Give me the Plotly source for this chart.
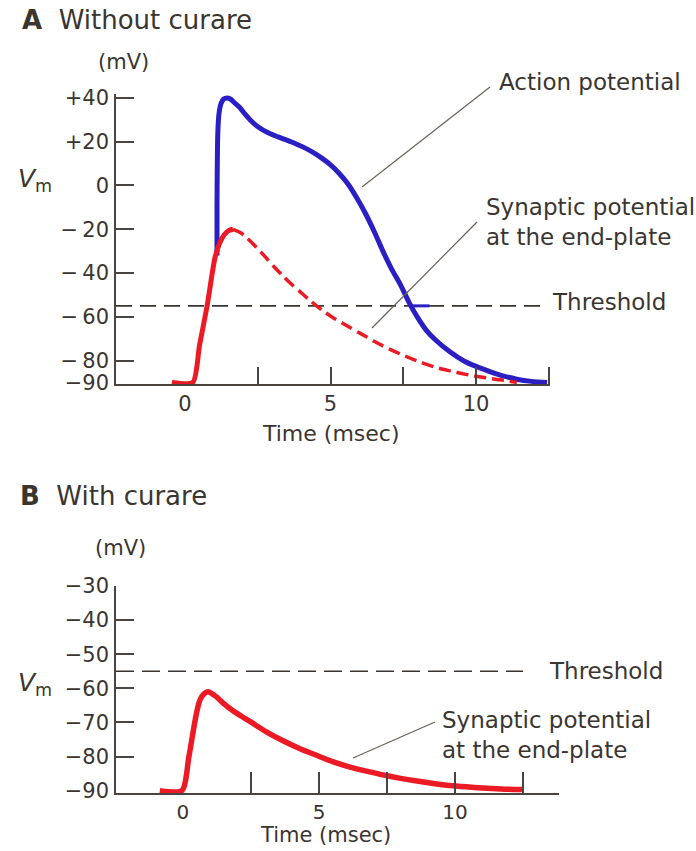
import plotly.graph_objects as go

W, H = 696, 851

# ---------------- data ----------------
THRESHOLD_MV = -55

# Panel A: synaptic potential (solid rising part, then dashed decay)
T_SYN_A_RISE = [-0.45, 0.27, 0.5, 0.76, 1.03, 1.2, 1.35, 1.5, 1.65]
V_SYN_A_RISE = [-90, -90, -73, -55, -33, -26, -22.5, -20.6, -20]
T_SYN_A_DECAY = [1.65, 1.9, 2.13, 2.45, 2.75, 3.05, 3.37, 3.65, 3.95, 4.25, 4.54, 4.82,
                 5.1, 5.4, 5.67, 5.95, 6.25, 6.5, 6.8, 7.1, 7.4, 7.7, 8.0, 8.3, 8.6, 8.9,
                 9.2, 9.5, 9.8, 10.1, 10.4, 10.7, 11.0, 11.4]
V_SYN_A_DECAY = [-20, -21.5, -24, -28.2, -32.5, -37, -41.4, -45, -48.5, -52, -55.2, -58,
                 -60.5, -62.8, -64.9, -67.1, -69.2, -71.2, -73.3, -75.2, -77, -78.7,
                 -80.3, -81.7, -83, -84.1, -85, -85.9, -86.7, -87.4, -88, -88.6, -89.1, -90]

# Panel A: action potential
T_AP = [1.10, 1.10, 1.11, 1.13, 1.17, 1.24, 1.33, 1.44, 1.56, 1.7, 1.89, 2.05, 2.25,
        2.47, 2.7, 2.95, 3.2, 3.5, 3.8, 4.1, 4.4, 4.7, 5.0, 5.3, 5.6, 5.9, 6.2, 6.5,
        6.8, 7.1, 7.4, 7.7, 8.0, 8.3, 8.6, 9.1, 9.6, 10.2, 10.8, 11.4, 11.9, 12.44]
V_AP = [-32, -10, 10, 25, 33, 37.5, 39.5, 40, 39.5, 37.8, 35.5, 32.8, 29.8,
        27.2, 25.2, 23.5, 22.2, 20.7, 19.1, 17.3, 15.1, 12.5, 9.4, 5.5, 0.7, -5.6,
        -12.8, -21, -30, -38.2, -45.3, -53.5, -60.5, -66.3, -70.5, -76, -80.3,
        -83.7, -86.5, -88.5, -89.5, -90]
T_AP_THR_MARK = [7.7, 8.4]

# Panel B: synaptic potential with curare
T_SYN_B = [-0.85, -0.04, 0.22, 0.48, 0.62, 0.75, 0.92, 1.2, 1.5, 1.84, 2.15, 2.46,
           3.05, 3.68, 4.3, 4.93, 5.5, 6.14, 6.75, 7.35, 8.0, 8.6, 9.2, 9.8, 10.4,
           11.0, 11.7, 12.46]
V_SYN_B = [-90, -90, -80, -68, -63.5, -61.8, -61, -62.3, -64.5, -66.6, -68.2, -69.7,
           -72.7, -75.4, -77.7, -79.7, -81.5, -83.1, -84.3, -85.4, -86.4, -87.2,
           -87.9, -88.5, -88.9, -89.2, -89.5, -89.7]

# threshold line extents (ms)
THR_T_A = [-2.37, 12.2]
THR_T_B = [-2.46, 12.5]

# axis ticks
YTICKS_A = [40, 20, 0, -20, -40, -60, -80, -90]
YTEXT_A = ["+40", "+20", "0", "\u2212\u200920", "\u2212\u200940", "\u2212\u200960",
           "\u2212\u200980", "\u221290"]
YMARKS_A = [40, 20, 0, -20, -40, -60, -80]
YTICKS_B = [-30, -40, -50, -60, -70, -80, -90]
YTEXT_B = ["\u221230", "\u221240", "\u221250", "\u221260", "\u221270", "\u221280", "\u221290"]
YMARKS_B = [-30, -40, -50, -60, -70, -80]
XLABELS = [0, 5, 10]
XMARKS = [2.5, 5, 7.5, 10, 12.5]

# ---------------- style ----------------
FONT = "DejaVu Sans"
TXT = "#3a3531"
AX = "#4a4540"
BLUE = "#2b1fc4"
RED = "#ec1a24"

def px(x):
    return x / W

def py(y):
    return 1 - y / H

XR_A = [-2.37, 12.54]
YR_A = [-90.7, 41.8]
XR_B = [-2.46, 13.82]
YR_B = [-90.7, -30]

fig = go.Figure()

# Panel A
fig.add_trace(go.Scatter(x=THR_T_A, y=[THRESHOLD_MV] * 2, mode="lines",
                         line=dict(color="#3a3531", width=1.6, dash="16px,8px"),
                         xaxis="x", yaxis="y"))
fig.add_trace(go.Scatter(x=T_AP, y=V_AP, mode="lines",
                         line=dict(color=BLUE, width=5, shape="spline", smoothing=0.8),
                         xaxis="x", yaxis="y"))
fig.add_trace(go.Scatter(x=T_AP_THR_MARK, y=[THRESHOLD_MV] * 2, mode="lines",
                         line=dict(color=BLUE, width=3),
                         xaxis="x", yaxis="y"))
fig.add_trace(go.Scatter(x=T_SYN_A_DECAY, y=V_SYN_A_DECAY, mode="lines",
                         line=dict(color=RED, width=3.5, dash="12px,6px", shape="spline",
                                   smoothing=0.8),
                         xaxis="x", yaxis="y"))
fig.add_trace(go.Scatter(x=T_SYN_A_RISE, y=V_SYN_A_RISE, mode="lines",
                         line=dict(color=RED, width=5, shape="spline", smoothing=0.6),
                         xaxis="x", yaxis="y"))

# Panel B
fig.add_trace(go.Scatter(x=THR_T_B, y=[THRESHOLD_MV] * 2, mode="lines",
                         line=dict(color="#3a3531", width=1.6, dash="18px,8px"),
                         xaxis="x2", yaxis="y2"))
fig.add_trace(go.Scatter(x=T_SYN_B, y=V_SYN_B, mode="lines",
                         line=dict(color=RED, width=5.5, shape="spline", smoothing=0.7),
                         xaxis="x2", yaxis="y2"))

# dummy traces so the overlay tick-mark axes render
fig.add_trace(go.Scatter(x=[None], y=[None], xaxis="x3", yaxis="y3", hoverinfo="skip"))
fig.add_trace(go.Scatter(x=[None], y=[None], xaxis="x4", yaxis="y4", hoverinfo="skip"))

tickfont = dict(family=FONT, size=21, color=TXT)

common_x = dict(showgrid=False, zeroline=False, showline=True, linecolor=AX, linewidth=1.6,
                ticks="", tickfont=tickfont, tickmode="array", tickvals=XLABELS,
                ticktext=[str(v) for v in XLABELS], fixedrange=True, automargin=False)
common_y = dict(showgrid=False, zeroline=False, showline=True, linecolor=AX, linewidth=1.6,
                ticks="", tickfont=tickfont, ticklabelstandoff=1,
                tickmode="array", fixedrange=True, automargin=False)
mark = dict(showgrid=False, zeroline=False, showline=False, ticks="inside", tickwidth=1.5,
            tickcolor=AX, showticklabels=False, tickmode="array", fixedrange=True,
            automargin=False)

fig.update_layout(
    width=W, height=H,
    margin=dict(l=0, r=0, t=0, b=0, pad=0, autoexpand=False),
    paper_bgcolor="white", plot_bgcolor="white",
    showlegend=False,
    xaxis=dict(common_x, domain=[px(116), px(550)], range=XR_A, anchor="y"),
    yaxis=dict(common_y, domain=[py(384), py(94)], range=YR_A, anchor="x",
               tickvals=YTICKS_A, ticktext=YTEXT_A),
    xaxis2=dict(common_x, domain=[px(116), px(559)], range=XR_B, anchor="y2",
                tickfont=dict(family=FONT, size=20, color=TXT)),
    yaxis2=dict(common_y, domain=[py(793), py(586)], range=YR_B, anchor="x2",
                tickvals=YTICKS_B, ticktext=YTEXT_B),
    xaxis3=dict(mark, overlaying="x", anchor="y", range=XR_A, ticklen=17, tickvals=XMARKS),
    yaxis3=dict(mark, overlaying="y", anchor="x", range=YR_A, ticklen=18, tickvals=YMARKS_A),
    xaxis4=dict(mark, overlaying="x2", anchor="y2", range=XR_B, ticklen=21, tickvals=XMARKS),
    yaxis4=dict(mark, overlaying="y2", anchor="x2", range=YR_B, ticklen=18, tickvals=YMARKS_B),
)

def text(x, y, s, size=23, xanchor="left", yanchor="middle"):
    fig.add_annotation(x=px(x), y=py(y), xref="paper", yref="paper", text=s,
                       showarrow=False, xanchor=xanchor, yanchor=yanchor, align="left",
                       font=dict(family=FONT, size=size, color=TXT))

text(20, 20, "<b>A</b>  Without curare", size=26)
text(18, 496, "<b>B</b>  With curare", size=26)
text(123, 62, "(mV)", size=21, xanchor="center")
text(120, 548, "(mV)", size=21, xanchor="center")
text(16, 180, "<i>V</i><sub>m</sub>", size=25)
text(16, 684, "<i>V</i><sub>m</sub>", size=25)
text(497, 82, "Action potential")
text(484, 222, "Synaptic potential<br>at the end-plate")
text(550, 302, "Threshold")
text(547, 671, "Threshold")
text(440, 735, "Synaptic potential<br>at the end-plate")
text(331, 433, "Time (msec)", size=22, xanchor="center")
text(325, 835, "Time (msec)", size=21, xanchor="center")

def leader(x0, y0, x1, y1):
    fig.add_shape(type="line", xref="paper", yref="paper",
                  x0=px(x0), y0=py(y0), x1=px(x1), y1=py(y1),
                  line=dict(color="#6a625a", width=1.2))

leader(362, 187, 490, 87)
leader(372, 328, 477, 222)
leader(353, 758, 435, 722)

fig.write_html("out.html")
